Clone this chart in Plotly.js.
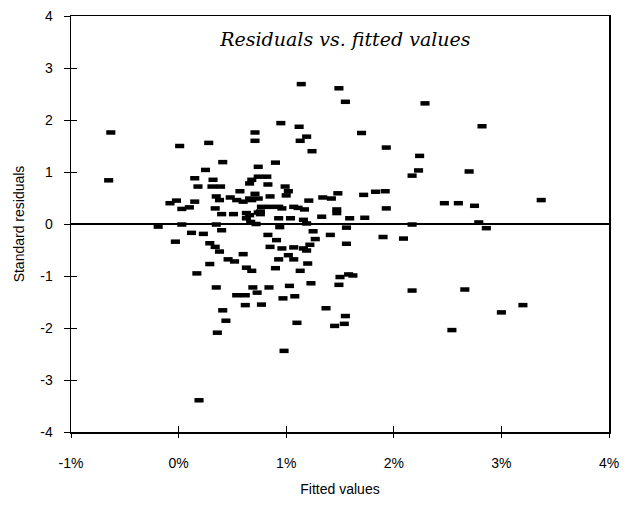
<!DOCTYPE html>
<html>
<head>
<meta charset="utf-8">
<script src="https://cdn.plot.ly/plotly-3.0.1.min.js"></script>
<style>html,body{margin:0;padding:0;background:#fff;}#chart{width:631px;height:507px;}</style>
</head>
<body>
<div id="chart"></div>
<script>
// Fitted values (in %) and standardized residuals
const fittedValues = [
 -0.63,-0.65,0.01,0.28,0.41,0.25,0.15,0.18,0.32,0.31,0.39,0.35,0.38,0.57,0.48,0.54,0.60,0.66,0.15,-0.08,
 -0.02,0.03,0.10,0.34,0.40,0.51,0.63,0.67,0.35,0.68,0.66,0.71,0.71,0.74,0.74,0.82,0.83,0.71,0.68,0.74,
 0.85,0.99,1.02,1.00,1.21,0.77,0.76,0.85,0.93,0.96,1.07,1.11,1.17,0.63,0.66,0.74,0.76,0.93,1.04,0.94,
 1.16,1.19,0.90,0.95,1.12,1.19,1.13,1.24,1.14,1.49,1.55,2.29,1.70,1.93,2.24,2.23,2.17,1.34,1.42,1.48,
 1.72,1.83,1.92,1.93,1.47,1.47,1.33,1.59,1.73,2.82,2.70,2.47,2.60,2.75,3.37,2.79,2.86,2.66,3.00,3.20,
 2.54,2.17,1.90,2.09,2.17,1.56,1.56,1.41,1.25,1.27,1.22,1.16,1.19,1.07,0.96,0.85,0.91,0.83,0.72,1.02,
 1.07,0.93,1.20,1.13,0.90,0.63,0.68,1.50,1.58,1.62,1.49,1.23,1.03,0.84,0.69,0.73,1.08,0.97,0.77,1.37,
 1.55,1.54,1.45,1.10,0.98,-0.19,0.03,-0.03,0.12,0.23,0.40,0.29,0.34,0.38,0.29,0.17,0.46,0.52,0.60,0.35,
 0.54,0.62,0.62,0.41,0.44,0.36,0.19
];
const standardResiduals = [
 1.76,0.84,1.50,1.56,1.19,1.04,0.88,0.72,0.85,0.72,0.72,0.53,0.46,0.63,0.51,0.46,0.43,0.49,0.43,0.40,
 0.45,0.29,0.32,0.30,0.19,0.19,0.11,0.04,-0.01,0.85,0.78,1.76,1.60,1.10,0.91,0.91,0.76,0.58,0.46,0.49,
 0.53,0.72,0.63,0.55,0.45,0.33,0.24,0.33,0.33,0.30,0.33,0.31,0.28,0.21,0.17,0.22,0.19,0.11,0.11,-0.06,
 0.08,0.01,1.18,1.94,1.87,1.68,1.60,1.40,2.69,2.61,2.35,2.32,1.75,1.47,1.31,1.03,0.93,0.51,0.49,0.59,
 0.56,0.62,0.63,0.30,0.28,0.21,0.14,0.11,0.12,1.88,1.01,0.40,0.40,0.35,0.46,0.03,-0.08,-1.26,-1.70,-1.56,
 -2.04,-0.01,-0.25,-0.28,-1.28,-0.07,-0.38,-0.21,-0.14,-0.29,-0.40,-0.47,-0.51,-0.45,-0.47,-0.44,-0.31,-0.21,0.00,-0.60,
 -0.68,-0.68,-0.76,-0.90,-0.85,-0.84,-0.90,-1.02,-0.97,-0.99,-1.17,-1.14,-1.19,-1.22,-1.22,-1.32,-1.39,-1.43,-1.55,-1.62,
 -1.77,-1.92,-1.96,-1.90,-2.44,-0.05,-0.01,-0.34,-0.17,-0.19,-0.12,-0.37,-0.44,-0.53,-0.77,-0.95,-0.68,-0.72,-0.58,-1.22,
 -1.37,-1.37,-1.56,-1.66,-1.86,-2.09,-3.39
];
const xTickValues = [-1, 0, 1, 2, 3, 4];
const xTickLabels = ['-1%', '0%', '1%', '2%', '3%', '4%'];
const yTickValues = [-4, -3, -2, -1, 0, 1, 2, 3, 4];
const yTickLabels = ['-4', '-3', '-2', '-1', '0', '1', '2', '3', '4'];

const tickFont = {family: 'Liberation Sans Narrow, Arial Narrow, Liberation Sans, Arial, sans-serif', size: 14, color: '#000'};

const trace = {
  type: 'scatter', mode: 'markers',
  x: fittedValues, y: standardResiduals,
  marker: {symbol: 'line-ew', size: 6.5, color: '#000', line: {color: '#000', width: 4.5}},
  hoverinfo: 'skip', showlegend: false
};
// invisible trace to activate overlay axes (inner half of cross ticks)
const ghost = {type: 'scatter', mode: 'markers', x: [], y: [], xaxis: 'x2', yaxis: 'y2', showlegend: false, hoverinfo: 'skip'};

const layout = {
  width: 631, height: 507,
  margin: {l: 71, r: 22, t: 16, b: 75},
  paper_bgcolor: '#fff', plot_bgcolor: '#fff',
  showlegend: false,
  title: {
    text: 'Residuals vs. fitted values',
    font: {family: 'DejaVu Serif, serif', size: 19, style: 'italic', color: '#000'},
    xref: 'paper', yref: 'paper', x: 0.51, xanchor: 'center', y: 0.945, yanchor: 'middle'
  },
  xaxis: {
    range: [-1, 4], tickvals: xTickValues, ticktext: xTickLabels,
    showgrid: false, zeroline: false,
    showline: true, linecolor: '#000', linewidth: 1.5, mirror: true,
    ticks: 'outside', ticklen: 4, tickwidth: 1, tickcolor: '#000',
    ticklabelstandoff: 14,
    tickfont: tickFont,
    title: {text: 'Fitted values', font: tickFont, standoff: 14}
  },
  yaxis: {
    range: [-4, 4], tickvals: yTickValues, ticktext: yTickLabels,
    showgrid: false, zeroline: true, zerolinecolor: '#000', zerolinewidth: 1.2,
    showline: true, linecolor: '#000', linewidth: 1.5, mirror: true,
    ticks: 'outside', ticklen: 6, tickwidth: 1, tickcolor: '#000',
    ticklabelstandoff: 8,
    tickfont: tickFont,
    title: {text: 'Standard residuals', font: tickFont, standoff: 12}
  },
  xaxis2: {range: [-1, 4], tickvals: xTickValues, overlaying: 'x', showticklabels: false,
    ticks: 'inside', ticklen: 6, tickcolor: '#000', showgrid: false, zeroline: false, showline: false},
  yaxis2: {range: [-4, 4], tickvals: yTickValues, overlaying: 'y', showticklabels: false,
    ticks: 'inside', ticklen: 6, tickcolor: '#000', showgrid: false, zeroline: false, showline: false}
};

Plotly.newPlot('chart', [trace, ghost], layout, {displayModeBar: false, staticPlot: true});
</script>
</body>
</html>
